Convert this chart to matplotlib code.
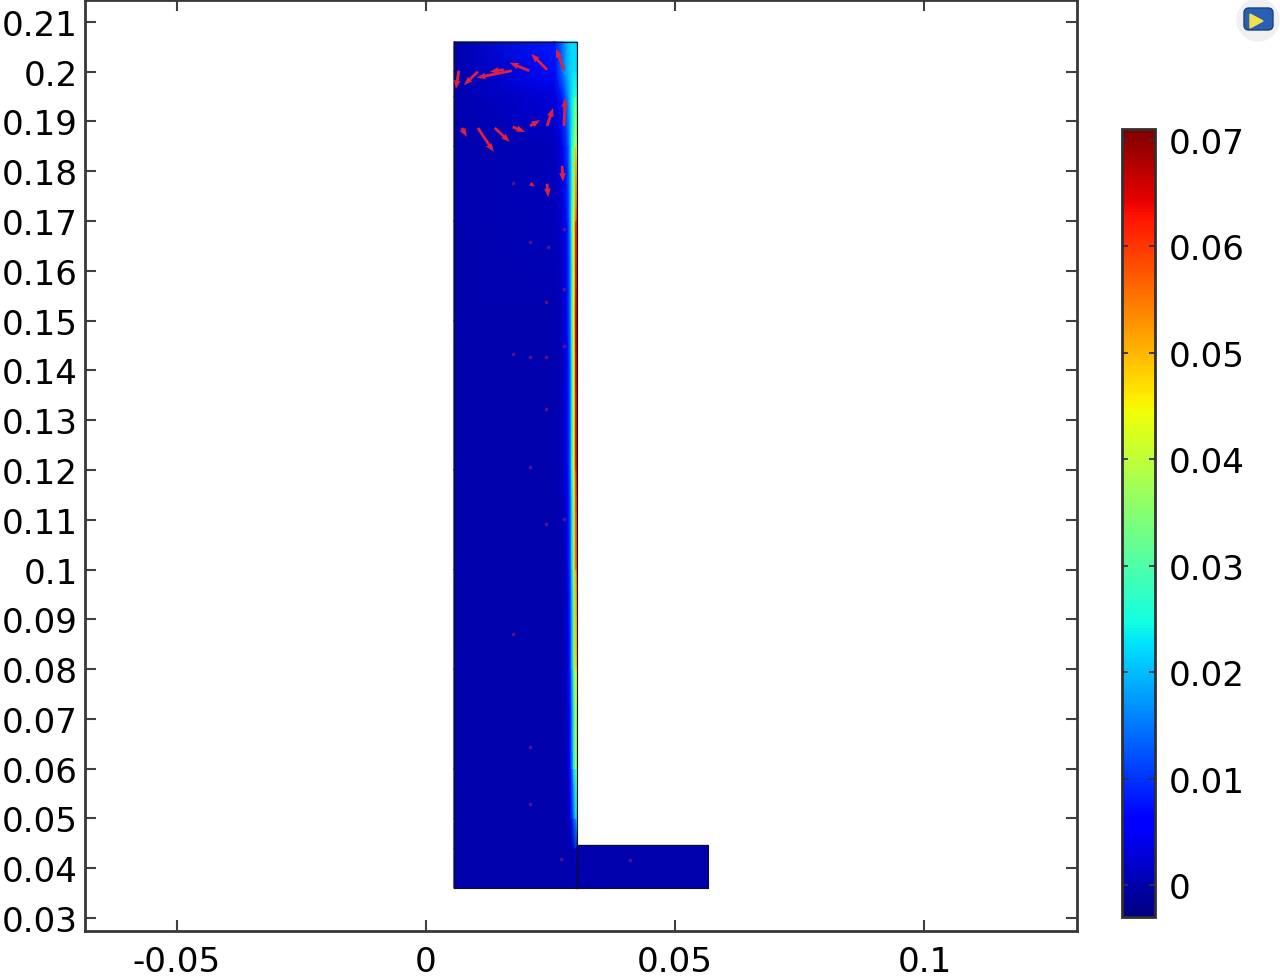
import matplotlib
matplotlib.use('Agg')
import matplotlib.pyplot as plt
import numpy as np
from matplotlib.patches import Circle, FancyBboxPatch, Polygon

# axis ticks
x_ticks = [-0.05, 0, 0.05, 0.1]
x_labels = ['-0.05', '0', '0.05', '0.1']
y_ticks = [0.03, 0.04, 0.05, 0.06, 0.07, 0.08, 0.09, 0.1, 0.11, 0.12,
           0.13, 0.14, 0.15, 0.16, 0.17, 0.18, 0.19, 0.2, 0.21]
y_labels = ['0.03', '0.04', '0.05', '0.06', '0.07', '0.08', '0.09', '0.1', '0.11', '0.12',
            '0.13', '0.14', '0.15', '0.16', '0.17', '0.18', '0.19', '0.2', '0.21']
cbar_ticks = [0, 0.01, 0.02, 0.03, 0.04, 0.05, 0.06, 0.07]
cbar_labels = ['0', '0.01', '0.02', '0.03', '0.04', '0.05', '0.06', '0.07']

# velocity in the tall part, rows bottom to top
field_x = [0.0056, 0.0259, 0.0273, 0.0283, 0.0289, 0.0293, 0.0297, 0.0300, 0.0303]
field_y = [0.036, 0.044, 0.05, 0.06, 0.08, 0.10, 0.12, 0.15, 0.17, 0.185, 0.195, 0.2, 0.206]
field_values = [
    [0, 0, 0, 0, 0, 0, 0, 0, 0],
    [0, 0, 0, 0, 0, 0, 0.001, 0.002, 0.001],
    [0, 0, 0, 0, 0.003, 0.008, 0.014, 0.020, 0.020],
    [0, 0, 0, 0.001, 0.006, 0.014, 0.024, 0.032, 0.034],
    [0, 0, 0, 0.002, 0.008, 0.019, 0.032, 0.044, 0.048],
    [0, 0, 0, 0.003, 0.010, 0.022, 0.037, 0.052, 0.058],
    [0, 0, 0.001, 0.004, 0.012, 0.025, 0.042, 0.060, 0.066],
    [0, 0, 0.001, 0.005, 0.014, 0.027, 0.045, 0.064, 0.069],
    [0, 0.001, 0.002, 0.007, 0.016, 0.028, 0.043, 0.058, 0.064],
    [0, 0.001, 0.004, 0.010, 0.018, 0.025, 0.033, 0.042, 0.042],
    [0, 0.003, 0.008, 0.015, 0.020, 0.023, 0.026, 0.028, 0.026],
    [0, 0.007, 0.014, 0.019, 0.021, 0.022, 0.023, 0.023, 0.021],
    [0, 0.008, 0.014, 0.019, 0.021, 0.022, 0.022, 0.022, 0.019],
]

# the small part at the bottom right
tab_x = [0.0303, 0.0566]
tab_y = [0.036, 0.0446]
tab_values = [[0, 0], [0, 0]]

# outline of the domain
outline_x = [0.0056, 0.0303, 0.0303, 0.0566, 0.0566, 0.0056, 0.0056]
outline_y = [0.206, 0.206, 0.0446, 0.0446, 0.036, 0.036, 0.206]
divider_x = [0.0303, 0.0303]
divider_y = [0.0446, 0.036]

# arrows, tail and head
arrow_x0 = [0.0066, 0.0104, 0.0172, 0.0156, 0.0207, 0.0243, 0.0277, 0.0277, 0.0243,
            0.0209, 0.0174, 0.0138, 0.0104, 0.0072, 0.0273, 0.0243, 0.0209]
arrow_y0 = [0.2002, 0.2000, 0.2002, 0.2004, 0.2002, 0.2004, 0.2004, 0.1891, 0.1891,
            0.1891, 0.1889, 0.1887, 0.1887, 0.1887, 0.1811, 0.1775, 0.1775]
arrow_x1 = [0.0060, 0.0076, 0.0102, 0.0128, 0.0168, 0.0211, 0.0261, 0.0279, 0.0255,
            0.0229, 0.0199, 0.0168, 0.0136, 0.0082, 0.0275, 0.0245, 0.0219]
arrow_y1 = [0.1965, 0.1973, 0.1988, 0.2000, 0.2018, 0.2036, 0.2046, 0.1947, 0.1927,
            0.1903, 0.1879, 0.1859, 0.1839, 0.1869, 0.1779, 0.1748, 0.1769]

# tiny arrows further down, only visible as dots
dot_x = [0.0245, 0.0241, 0.0241, 0.0277, 0.0277, 0.0277, 0.0209, 0.0209, 0.0174, 0.0174,
         0.0209, 0.0241, 0.0174, 0.0209, 0.0209, 0.0271, 0.0409, 0.0241, 0.0277]
dot_y = [0.1648, 0.1538, 0.1427, 0.1684, 0.1564, 0.1449, 0.1658, 0.1427, 0.1433, 0.1777,
         0.1206, 0.1092, 0.0871, 0.0644, 0.0529, 0.0419, 0.0417, 0.1323, 0.1102]

plt.rcParams['font.family'] = 'DejaVu Sans'
plt.rcParams['font.size'] = 24.6

fig = plt.figure(figsize=(12.8, 9.78), dpi=100)
ax = fig.add_axes([85 / 1280, 46 / 978, 992 / 1280, 931 / 978])

mesh = ax.pcolormesh(field_x, field_y, field_values, cmap='jet', vmin=-0.003, vmax=0.071,
                     shading='gouraud')
ax.pcolormesh(tab_x, tab_y, tab_values, cmap='jet', vmin=-0.003, vmax=0.071, shading='gouraud')
ax.plot(outline_x, outline_y, color='#101020', lw=0.8)
ax.plot(divider_x, divider_y, color='#101020', lw=1.0)

u = np.array(arrow_x1) - np.array(arrow_x0)
v = np.array(arrow_y1) - np.array(arrow_y0)
ax.quiver(arrow_x0, arrow_y0, u, v, angles='xy', scale_units='xy', scale=1, color='#e0203c',
          width=0.0028, headwidth=2.4, headlength=3.2, headaxislength=3.0, zorder=3)
ax.scatter(dot_x, dot_y, s=7, color='#a02060', alpha=0.55, linewidths=0, zorder=3)

ax.set_xlim(-0.0684, 0.1306)
ax.set_ylim(0.0274, 0.2144)
ax.set_xticks(x_ticks, x_labels)
ax.set_yticks(y_ticks, y_labels)
ax.tick_params(axis='x', direction='in', top=True, length=8, width=1.5, color='#404040', pad=10)
ax.tick_params(axis='y', direction='in', right=True, length=8, width=1.5, color='#404040', pad=5)
for spine in ax.spines.values():
    spine.set_color('#383838')
    spine.set_linewidth(2.0)

# colorbar
cax = fig.add_axes([1122 / 1280, 60 / 978, 33 / 1280, 788 / 978])
cbar = fig.colorbar(mesh, cax=cax)
cbar.set_ticks(cbar_ticks, labels=cbar_labels)
cbar.ax.tick_params(direction='in', left=True, right=True, length=4.5, width=1.3, color='#303030', pad=10)
cbar.outline.set_edgecolor('#303030')
cbar.outline.set_linewidth(2.0)

# little app icon in the corner
icon = fig.add_axes([1236 / 1280, 934 / 978, 44 / 1280, 44 / 978])
icon.set_xlim(1236, 1280)
icon.set_ylim(44, 0)
icon.axis('off')
icon.add_patch(Circle((1258, 21), 21, color='#eef0f2'))
icon.add_patch(FancyBboxPatch((1246, 11), 25, 18, boxstyle='round,pad=2,rounding_size=5',
                              fc='#2a60b4', ec='#1c3f80', lw=1))
icon.add_patch(Polygon([(1250, 15), (1263, 22), (1250, 29)], color='#f4e04a'))

fig.savefig('out.png', dpi=100)
